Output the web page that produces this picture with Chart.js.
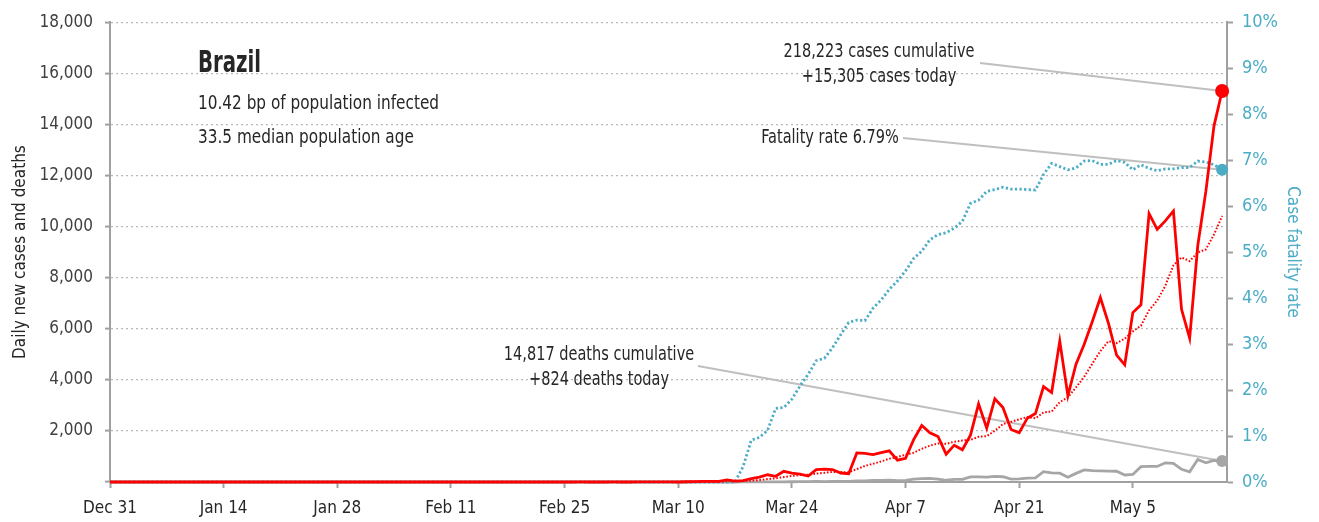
<!DOCTYPE html>
<html>
<head>
<meta charset="utf-8">
<script src="https://cdn.jsdelivr.net/npm/chart.js@4.4.0/dist/chart.umd.min.js"></script>
<style>
  html, body { margin: 0; padding: 0; background: #fff; }
  #wrap { width: 1319px; height: 522px; }
</style>
</head>
<body>
<div id="wrap"><canvas id="chart" width="1319" height="522"></canvas></div>
<script>
// days since Dec 31 (one point per day, Dec 31 .. May 16)
const days = Array.from({ length: 138 }, (_, i) => i);
const tickDays = [0, 14, 28, 42, 56, 70, 84, 98, 112, 126];
const tickLabels = ['Dec 31', 'Jan 14', 'Jan 28', 'Feb 11', 'Feb 25', 'Mar 10', 'Mar 24', 'Apr 7', 'Apr 21', 'May 5'];

// daily new cases
const cases = [
  0, 0, 0, 0, 0, 0, 0, 0, 0, 0, 0, 0, 0, 0, 0, 0, 0, 0, 0, 0,
  0, 0, 0, 0, 0, 0, 0, 0, 0, 0, 0, 0, 0, 0, 0, 0, 0, 0, 0, 0,
  0, 0, 0, 0, 0, 0, 0, 0, 0, 0, 0, 0, 0, 0, 0, 0, 0, 0,
  1, 0, 0, 0, 1, 0, 0, 2, 4, 5, 6, 6,
  0, 9, 18, 25, 21, 23, 79, 34, 57, 137,
  193, 283, 224, 418, 345, 310, 232, 482, 502, 487,
  352, 323, 1138, 1119, 1074, 1146, 1222, 852, 926, 1661,
  2210, 1930, 1781, 1089, 1442, 1261, 1832, 3058, 2105, 3257,
  2917, 2055, 1927, 2498, 2678, 3735, 3503, 5514, 3379, 4613,
  5385, 6276, 7218, 6209, 4970, 4588, 6633, 6935, 10503, 9888,
  10222, 10611, 6760, 5632, 9258, 11385, 13944, 15305
];

// 7-day average of new cases (dotted red)
const casesAvg = [
  0, 0, 0, 0, 0, 0, 0, 0, 0, 0, 0, 0, 0, 0, 0, 0, 0, 0, 0, 0,
  0, 0, 0, 0, 0, 0, 0, 0, 0, 0, 0, 0, 0, 0, 0, 0, 0, 0, 0, 0,
  0, 0, 0, 0, 0, 0, 0, 0, 0, 0, 0, 0, 0, 0, 0, 0, 0, 0,
  0.1, 0.1, 0.1, 0.1, 0.3, 0.3, 0.3, 0.4, 1.0, 1.7, 2.6, 3.3,
  3.3, 4.6, 6.9, 9.9, 12.1, 14.6, 25, 29.9, 36.7, 53.7,
  77.7, 115.1, 143.9, 192.3, 236.7, 272.9, 286.4, 327.7, 359, 396.6,
  387.1, 384, 502.3, 629, 713.6, 805.6, 910.6, 982, 1068.1, 1142.9,
  1298.7, 1421, 1511.7, 1492.7, 1577, 1624.9, 1649.3, 1770.4, 1795.4, 2006.3,
  2267.4, 2355, 2450.1, 2545.3, 2491, 2723.9, 2759, 3130, 3319.1, 3702.9,
  4115.3, 4629.3, 5126.9, 5513.4, 5435.7, 5608.4, 5897, 6118.4, 6722.3, 7103.7,
  7677, 8482.9, 8793.1, 8650.1, 8982, 9108, 9687.4, 10413.6
];

// daily deaths
const deaths = [
  0, 0, 0, 0, 0, 0, 0, 0, 0, 0, 0, 0, 0, 0, 0, 0, 0, 0, 0, 0,
  0, 0, 0, 0, 0, 0, 0, 0, 0, 0, 0, 0, 0, 0, 0, 0, 0, 0, 0, 0,
  0, 0, 0, 0, 0, 0, 0, 0, 0, 0, 0, 0, 0, 0, 0, 0, 0, 0, 0, 0,
  0, 0, 0, 0, 0, 0, 0, 0, 0, 0, 0, 0, 0, 0, 0, 0, 0, 0,
  1, 3,
  3, 4, 7, 7, 9, 12, 11, 20, 15, 22,
  22, 23, 42, 39, 59, 60, 72, 55, 67, 114,
  133, 141, 115, 68, 99, 105, 204, 204, 188, 217,
  206, 115, 125, 154, 165, 407, 357, 346, 189, 338,
  474, 449, 435, 428, 421, 275, 296, 600, 615, 610,
  751, 730, 496, 396, 881, 749, 844, 824
];

// case fatality rate, % (right axis)
const fatality = [
  0, 0, 0, 0, 0, 0, 0, 0, 0, 0, 0, 0, 0, 0, 0, 0, 0, 0, 0, 0,
  0, 0, 0, 0, 0, 0, 0, 0, 0, 0, 0, 0, 0, 0, 0, 0, 0, 0, 0, 0,
  0, 0, 0, 0, 0, 0, 0, 0, 0, 0, 0, 0, 0, 0, 0, 0, 0, 0, 0, 0,
  0, 0, 0, 0, 0, 0, 0, 0, 0, 0, 0, 0, 0, 0, 0, 0, 0, 0,
  0.34, 0.91,
  0.97, 1.12, 1.60, 1.62, 1.80, 2.09, 2.34, 2.64, 2.69, 2.92,
  3.20, 3.47, 3.52, 3.51, 3.78, 3.96, 4.19, 4.37, 4.59, 4.86,
  5.02, 5.27, 5.38, 5.42, 5.52, 5.67, 6.06, 6.13, 6.32, 6.36,
  6.41, 6.37, 6.37, 6.36, 6.35, 6.69, 6.93, 6.86, 6.79, 6.83,
  6.98, 6.99, 6.91, 6.91, 6.99, 6.95, 6.79, 6.90, 6.82, 6.77,
  6.81, 6.81, 6.84, 6.84, 6.98, 6.96, 6.90, 6.79
];

const FONT = '"Liberation Sans Narrow", "Arial Narrow", "DejaVu Sans Condensed", sans-serif';
const TEXT = '#262626';
const RED = '#ff0000';
const BLUE = '#4bacc6';
const GREY = '#a6a6a6';
const AXIS = '#a0a0a0';

Chart.defaults.font.family = FONT;
Chart.defaults.color = TEXT;

const last = days.length - 1;
const endDot = r => ctx => (ctx.dataIndex === last ? r : 0);

// labels and leader lines
const notes = [
  { lines: ['218,223 cases cumulative', '+15,305 cases today'], x: 879, y: 52, dataset: 0, from: [980, 63] },
  { lines: ['Fatality rate 6.79%'], x: 830, y: 138, dataset: 2, from: [903, 138] },
  { lines: ['14,817 deaths cumulative', '+824 deaths today'], x: 599, y: 355, dataset: 3, from: [698, 366] }
];

// squeeze text horizontally to imitate the narrow face of the original
function narrowText(ctx, t, x, y, align, sx) {
  ctx.save();
  ctx.translate(x, y);
  ctx.scale(sx, 1);
  ctx.textAlign = align;
  ctx.fillText(t, 0, 0);
  ctx.restore();
}

const notesPlugin = {
  id: 'notes',
  beforeDatasetsDraw(chart) {
    const ctx = chart.ctx;
    ctx.save();
    ctx.strokeStyle = '#bfbfbf';
    ctx.lineWidth = 2;
    notes.forEach(n => {
      const pt = chart.getDatasetMeta(n.dataset).data[last];
      ctx.beginPath();
      ctx.moveTo(n.from[0], n.from[1]);
      ctx.lineTo(pt.x, pt.y);
      ctx.stroke();
    });
    ctx.restore();
  },
  afterDraw(chart) {
    const ctx = chart.ctx;
    ctx.save();
    ctx.fillStyle = TEXT;
    ctx.textBaseline = 'middle';
    ctx.font = '19px ' + FONT;
    notes.forEach(n => {
      n.lines.forEach((t, i) => narrowText(ctx, t, n.x, n.y + i * 25, 'center', 0.85));
    });
    ctx.font = 'bold 30px ' + FONT;
    narrowText(ctx, 'Brazil', 198, 64, 'left', 0.73);
    ctx.font = '20px ' + FONT;
    narrowText(ctx, '10.42 bp of population infected', 198, 104, 'left', 0.85);
    narrowText(ctx, '33.5 median population age', 198, 138, 'left', 0.85);
    ctx.restore();
  }
};

new Chart(document.getElementById('chart'), {
  type: 'line',
  data: {
    labels: days,
    datasets: [
      {
        label: 'Daily new cases',
        data: cases,
        yAxisID: 'y',
        borderColor: RED,
        backgroundColor: RED,
        borderWidth: 2.8,
        pointRadius: endDot(7),
        pointBorderWidth: 0,
        clip: 12
      },
      {
        label: 'Cases, 7-day average',
        data: casesAvg,
        yAxisID: 'y',
        borderColor: RED,
        borderWidth: 2,
        borderDash: [1.6, 1.8],
        pointRadius: 0,
        clip: 12
      },
      {
        label: 'Case fatality rate',
        data: fatality,
        yAxisID: 'y2',
        borderColor: BLUE,
        backgroundColor: BLUE,
        borderWidth: 2.8,
        borderDash: [2.2, 2.4],
        pointRadius: endDot(6),
        pointBorderWidth: 0,
        clip: 12
      },
      {
        label: 'Daily deaths',
        data: deaths,
        yAxisID: 'y',
        borderColor: GREY,
        backgroundColor: GREY,
        borderWidth: 2.8,
        pointRadius: endDot(6),
        pointBorderWidth: 0,
        clip: 12
      }
    ]
  },
  options: {
    responsive: false,
    animation: false,
    events: [],
    layout: { padding: { top: 18, left: 0, right: 0, bottom: 0 } },
    plugins: { legend: { display: false }, tooltip: { enabled: false } },
    elements: { line: { tension: 0 } },
    scales: {
      x: {
        type: 'linear',
        min: 0,
        max: 137.6,
        afterBuildTicks: s => { s.ticks = tickDays.map(v => ({ value: v })); },
        afterFit: s => { s.height = 40; },
        ticks: {
          autoSkip: false,
          maxRotation: 0,
          padding: 10,
          font: { size: 17 },
          color: TEXT,
          callback: v => tickLabels[tickDays.indexOf(v)]
        },
        grid: { drawOnChartArea: false, tickLength: 6, tickColor: AXIS, tickWidth: 2 },
        border: { color: AXIS, width: 2 }
      },
      y: {
        position: 'left',
        min: 0,
        max: 18000,
        afterFit: s => { s.width = 110; },
        ticks: {
          stepSize: 2000,
          padding: 12,
          font: { size: 17 },
          color: '#404040',
          callback: v => v === 0 ? '' : v.toLocaleString('en-US')
        },
        title: { display: true, text: 'Daily new cases and deaths', font: { size: 17 }, color: TEXT, padding: { top: 10, bottom: 0 } },
        grid: { color: '#b8b8b8', lineWidth: 1.2, tickLength: 5, tickColor: AXIS, tickWidth: 2 },
        border: { color: AXIS, width: 2, dash: [2, 3] }
      },
      y2: {
        position: 'right',
        min: 0,
        max: 10,
        afterFit: s => { s.width = 92; },
        ticks: {
          stepSize: 1,
          padding: 9,
          font: { size: 18 },
          color: BLUE,
          callback: v => v + '%'
        },
        title: { display: true, text: 'Case fatality rate', font: { size: 17 }, color: BLUE, padding: { top: 16, bottom: 0 } },
        grid: { drawOnChartArea: false, tickLength: 6, tickColor: AXIS, tickWidth: 2 },
        border: { color: AXIS, width: 2 }
      }
    }
  },
  plugins: [notesPlugin]
});
</script>
</body>
</html>
